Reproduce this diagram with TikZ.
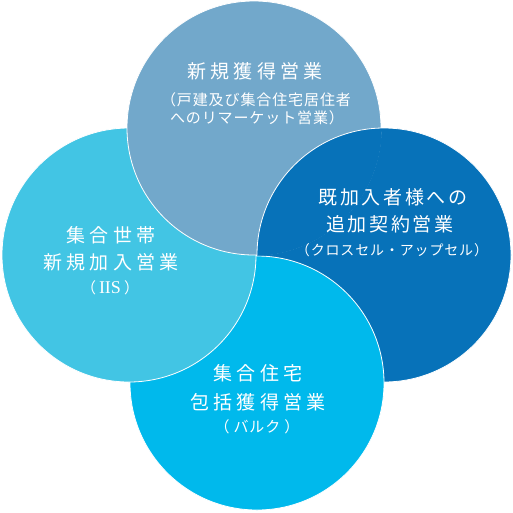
\documentclass[tikz,border=0pt]{standalone}
\usepackage{fontspec}
\newfontfamily\jpfont{Noto Sans CJK JP}
\newfontfamily\jpwide{Noto Sans CJK JP}[LetterSpace=22]
\newfontfamily\jpmid{Noto Sans CJK JP}[LetterSpace=14]
\newfontfamily\jpsub{Noto Sans CJK JP}[LetterSpace=6]
\newfontfamily\latserif{Liberation Serif}
\definecolor{ctop}{HTML}{72A8CB}
\definecolor{cleft}{HTML}{42C5E4}
\definecolor{cright}{HTML}{0772B9}
\definecolor{cbottom}{HTML}{00B9EC}
\begin{document}
\begin{tikzpicture}[x=1pt,y=-1pt,
  circ/.style={draw=white,line width=0.8pt},
  ttl/.style={text=white,font=\jpwide\fontsize{19}{19}\selectfont,inner sep=0pt},
  ttlr/.style={text=white,font=\jpmid\fontsize{19}{19}\selectfont,inner sep=0pt},
  sub/.style={text=white,font=\jpsub\fontsize{15}{15}\selectfont,inner sep=0pt},
  subr/.style={text=white,font=\jpsub\fontsize{14}{14}\selectfont,inner sep=0pt}]
\useasboundingbox (0,0) rectangle (513,512);
\coordinate (T) at (254,128);
\coordinate (L) at (129,255);
\coordinate (R) at (384,255);
\coordinate (B) at (257,383);
% pinwheel layering: right < bottom < left < top < right
\fill[cright,circ] (R) circle (127pt);
\fill[cbottom,circ] (B) circle (127pt);
\fill[cleft,circ] (L) circle (127pt);
\fill[ctop,circ] (T) circle (127pt);
\begin{scope}
  \clip (T) circle (127.8pt);
  \fill[cright,circ] (R) circle (127pt);
\end{scope}
% texts
\node[ttl] (t1) at (255,71) {新規獲得営業};
\node[sub] (t2) at (256,100) {（戸建及び集合住宅居住者};
\node[sub] (t3) at (257,118) {へのリマーケット営業）};
\node[ttl] (l1) at (111,235) {集合世帯};
\node[ttl] (l2) at (111,262) {新規加入営業};
\node[sub] (l3) at (110,288) {（\hspace{3pt}{\latserif\fontsize{18}{18}\selectfont IIS}\hspace{3pt}）};
\node[ttlr] (r1) at (393,197) {既加入者様への};
\node[ttlr] (r2) at (390,224) {追加契約営業};
\node[subr] (r3) at (392,250) {（クロスセル・アップセル）};
\node[ttl] (b1) at (258,373) {集合住宅};
\node[ttl] (b2) at (258,402) {包括獲得営業};
\node[sub] (b3) at (257,427) {（\hspace{4pt}バルク\hspace{4pt}）};
\end{tikzpicture}
\end{document}
